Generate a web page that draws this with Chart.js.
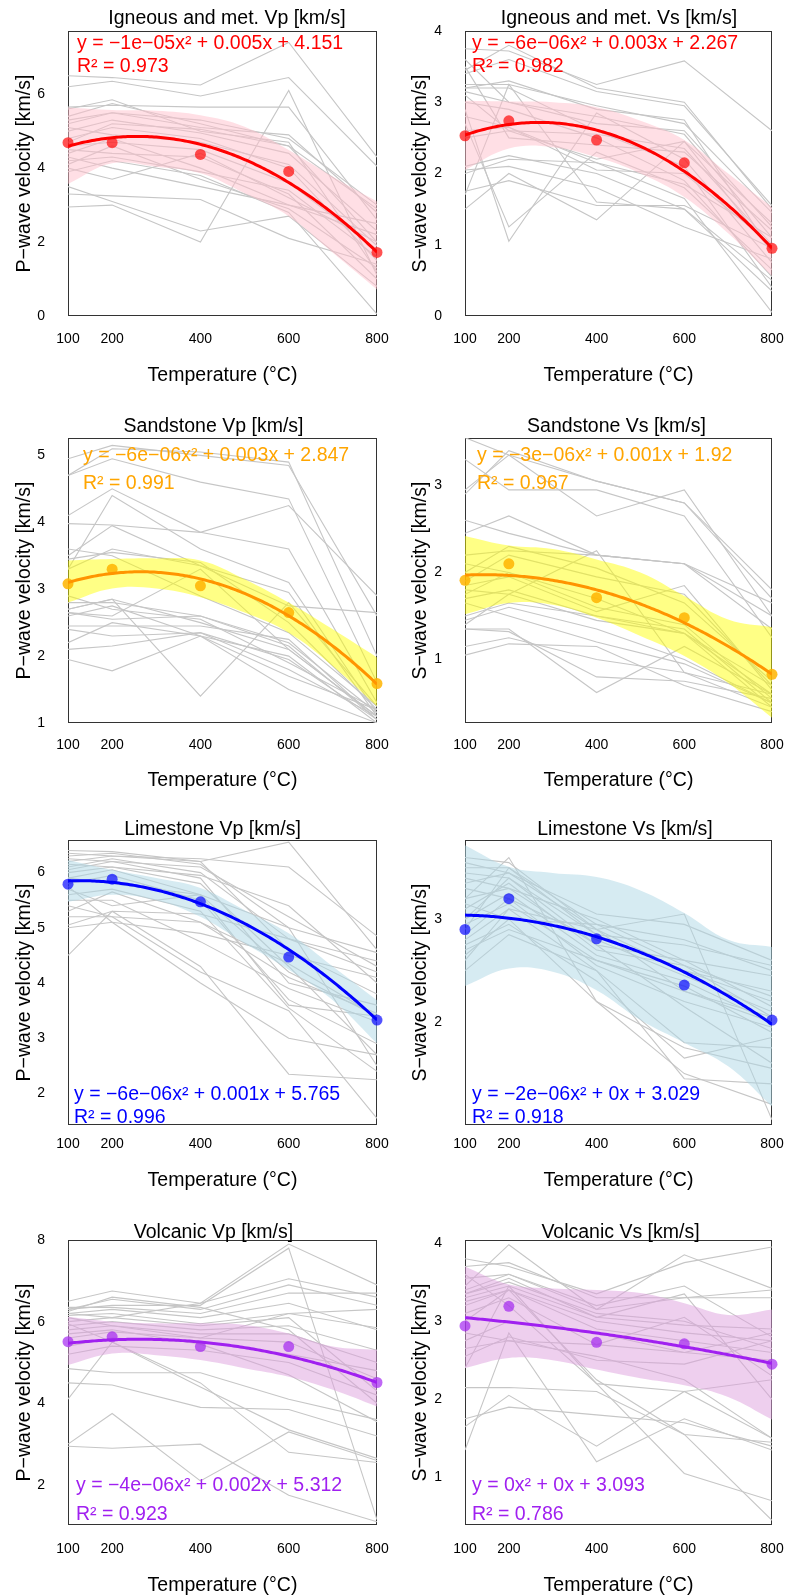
<!DOCTYPE html>
<html>
<head>
<meta charset="utf-8">
<script src="https://cdn.jsdelivr.net/npm/chart.js@4.4.1/dist/chart.umd.min.js"></script>
<style>
  html, body { margin: 0; padding: 0; background: #ffffff; }
  body { width: 787px; height: 1595px; position: relative; overflow: hidden; }
  canvas { position: absolute; }
</style>
</head>
<body>
<canvas id="c0"></canvas><canvas id="c1"></canvas>
<canvas id="c2"></canvas><canvas id="c3"></canvas>
<canvas id="c4"></canvas><canvas id="c5"></canvas>
<canvas id="c6"></canvas><canvas id="c7"></canvas>
<script>
// Temperatures at which each sample was measured (°C)
const temps = [100, 200, 400, 600, 800];
const xTicks = [100, 200, 400, 600, 800];
// Temperatures at which the confidence band edges are given
const bandX = [100, 200, 300, 400, 500, 600, 700, 800];

// ---------- Igneous and metamorphic, Vp ----------
const ignVpSamples = [
  [6.50, 6.45, 6.25, 7.40, 4.30],
  [6.20, 6.35, 5.95, 6.45, 4.05],
  [5.65, 5.70, 5.65, 5.65, 2.60],
  [5.60, 5.85, 5.00, 4.70, 1.20],
  [5.40, 5.75, 5.20, 4.60, 2.00],
  [5.20, 5.50, 5.10, 4.90, 2.80],
  [5.00, 5.30, 4.95, 4.40, 2.30],
  [4.80, 5.10, 4.80, 4.00, 1.50],
  [4.60, 4.70, 4.50, 3.60, 1.80],
  [4.50, 4.40, 4.30, 3.30, 1.00],
  [4.40, 4.80, 4.00, 3.00, 2.20],
  [4.20, 4.30, 3.90, 3.40, 1.60],
  [4.10, 4.60, 3.70, 2.90, 1.30],
  [4.00, 3.70, 4.40, 3.20, 2.00],
  [3.90, 4.20, 3.80, 2.80, 0.05],
  [3.50, 3.10, 2.30, 2.70, 0.80],
  [3.30, 3.25, 3.15, 2.10, 1.40],
  [2.95, 3.00, 2.00, 6.10, 1.10],
  [4.70, 5.20, 5.05, 4.60, 2.90],
  [5.30, 5.50, 5.30, 4.80, 3.00],
  [4.30, 4.00, 3.50, 3.00, 2.50],
  [5.10, 4.90, 4.70, 4.10, 1.90]
];
const ignVpMeans = [4.69, 4.69, 4.37, 3.91, 1.72];
const ignVpFit = [-1.065e-5, 0.00549, 4.151];
const ignVpUpper = [5.64, 5.57, 5.55, 5.43, 5.12, 4.49, 3.77, 3.10];
const ignVpLower = [3.57, 4.13, 4.04, 3.86, 3.32, 2.70, 1.71, 0.72];
const ignVpTicks = [0, 2, 4, 6];
const ignVpRange = [0, 7.71];
const ignVpEqn = "y = \u22121e\u221205x\u00b2 + 0.005x + 4.151";
const ignVpR2 = "R\u00b2 = 0.973";

// ---------- Igneous and metamorphic, Vs ----------
const ignVsSamples = [
  [3.75, 3.72, 3.25, 3.58, 2.60],
  [3.45, 3.80, 3.20, 3.00, 1.50],
  [3.40, 3.60, 3.15, 2.95, 1.55],
  [3.25, 3.25, 2.95, 2.70, 1.45],
  [3.20, 3.30, 2.90, 2.75, 0.90],
  [3.15, 3.00, 2.80, 2.55, 1.10],
  [3.10, 2.60, 2.20, 2.45, 0.90],
  [2.90, 1.05, 2.85, 2.20, 0.75],
  [2.70, 1.25, 2.30, 1.80, 0.65],
  [3.20, 3.20, 2.60, 2.10, 0.40],
  [3.00, 2.90, 2.50, 1.90, 0.55],
  [2.80, 2.65, 2.15, 1.65, 0.05],
  [2.60, 2.65, 2.05, 2.00, 1.00],
  [2.10, 2.25, 2.00, 1.50, 0.35],
  [2.05, 2.10, 1.80, 1.25, 0.80],
  [1.75, 1.90, 1.55, 1.55, 0.95],
  [1.50, 2.00, 1.35, 2.45, 1.30],
  [1.70, 3.25, 1.60, 1.50, 0.50],
  [3.50, 2.50, 2.40, 2.30, 1.20],
  [2.00, 2.20, 2.15, 1.85, 1.10],
  [3.60, 3.00, 2.70, 2.60, 1.25],
  [2.50, 2.60, 2.55, 2.35, 1.00]
];
const ignVsMeans = [2.53, 2.74, 2.47, 2.15, 0.95];
const ignVsFit = [-6.25e-6, 0.003355, 2.267];
const ignVsUpper = [3.02, 3.01, 3.00, 2.93, 2.74, 2.47, 2.00, 1.53];
const ignVsLower = [2.05, 2.35, 2.37, 2.23, 2.00, 1.67, 1.16, 0.56];
const ignVsTicks = [0, 1, 2, 3, 4];
const ignVsRange = [0, 4];
const ignVsEqn = "y = \u22126e\u221206x\u00b2 + 0.003x + 2.267";
const ignVsR2 = "R\u00b2 = 0.982";

// ---------- Sandstone, Vp ----------
const sandVpSamples = [
  [4.95, 5.15, 5.00, 4.85, 2.60],
  [4.70, 5.10, 5.05, 4.90, 2.00],
  [4.70, 4.95, 4.60, 4.35, 1.60],
  [4.10, 4.50, 3.85, 4.25, 2.90],
  [3.98, 3.96, 3.85, 3.60, 1.30],
  [3.30, 4.40, 3.60, 3.10, 1.15],
  [3.50, 3.95, 3.35, 2.75, 2.65],
  [3.45, 3.55, 3.40, 2.50, 1.20],
  [3.30, 3.60, 3.35, 2.95, 1.10],
  [2.70, 2.85, 1.40, 2.80, 1.25],
  [2.80, 2.80, 2.60, 2.20, 1.15],
  [2.70, 2.85, 2.50, 2.10, 1.10],
  [2.65, 2.55, 2.60, 2.15, 1.05],
  [2.60, 2.75, 2.30, 2.00, 1.00],
  [2.45, 2.45, 2.45, 2.25, 1.05],
  [2.40, 2.30, 2.35, 1.80, 1.10],
  [2.20, 2.50, 2.30, 1.70, 1.20],
  [2.10, 2.15, 2.35, 1.95, 1.05],
  [1.95, 1.78, 2.30, 1.50, 1.00],
  [2.65, 2.60, 3.30, 2.10, 1.10],
  [3.60, 3.50, 2.90, 2.35, 1.25],
  [2.90, 2.70, 2.55, 1.90, 1.20]
];
const sandVpMeans = [3.08, 3.30, 3.05, 2.65, 1.59];
const sandVpFit = [-5.877e-6, 0.003118, 2.847];
const sandVpUpper = [3.43, 3.45, 3.46, 3.43, 3.15, 2.80, 2.40, 1.98];
const sandVpLower = [2.80, 3.01, 3.01, 2.88, 2.65, 2.35, 1.85, 1.25];
const sandVpTicks = [1, 2, 3, 4, 5];
const sandVpRange = [1, 5.26];
const sandVpEqn = "y = \u22126e\u221206x\u00b2 + 0.003x + 2.847";
const sandVpR2 = "R\u00b2 = 0.991";

// ---------- Sandstone, Vs ----------
const sandVsSamples = [
  [3.55, 3.35, 2.65, 2.95, 1.50],
  [2.95, 3.35, 3.05, 2.80, 1.70],
  [2.90, 3.40, 3.05, 2.80, 1.80],
  [3.30, 2.95, 2.95, 2.65, 1.25],
  [2.60, 2.45, 2.20, 2.10, 1.50],
  [2.45, 2.65, 2.20, 2.10, 1.35],
  [2.20, 2.25, 2.20, 2.10, 1.65],
  [2.00, 2.30, 2.05, 1.65, 0.75],
  [1.90, 2.20, 1.95, 1.75, 0.70],
  [1.85, 1.95, 1.55, 1.85, 0.65],
  [1.80, 1.75, 1.45, 1.30, 0.60],
  [1.75, 2.00, 1.60, 1.40, 0.55],
  [1.70, 1.80, 1.50, 1.35, 0.50],
  [1.50, 1.65, 1.50, 1.30, 0.45],
  [1.45, 1.60, 1.35, 1.00, 0.50],
  [1.35, 1.35, 0.62, 1.15, 0.60],
  [1.35, 1.32, 0.80, 0.75, 0.55],
  [1.15, 1.25, 1.00, 0.85, 0.45],
  [1.05, 1.18, 1.15, 0.70, 0.40],
  [1.40, 1.75, 2.25, 0.85, 0.60],
  [1.65, 1.50, 1.20, 0.95, 0.50],
  [2.10, 2.00, 1.70, 1.30, 0.70]
];
const sandVsMeans = [1.91, 2.10, 1.71, 1.48, 0.83];
const sandVsFit = [-2.661e-6, 0.000766, 1.92];
const sandVsUpper = [2.42, 2.31, 2.27, 2.15, 2.00, 1.73, 1.46, 1.37];
const sandVsLower = [1.52, 1.65, 1.63, 1.48, 1.27, 1.04, 0.73, 0.33];
const sandVsTicks = [1, 2, 3];
const sandVsRange = [0.27, 3.546];
const sandVsEqn = "y = \u22123e\u221206x\u00b2 + 0.001x + 1.92";
const sandVsR2 = "R\u00b2 = 0.967";

// ---------- Limestone, Vp ----------
const limeVpSamples = [
  [6.40, 6.38, 6.20, 6.55, 4.60],
  [6.35, 6.30, 6.25, 6.10, 4.85],
  [6.30, 6.35, 6.15, 5.00, 4.55],
  [6.25, 6.20, 6.10, 5.20, 4.30],
  [6.20, 6.30, 6.20, 4.60, 3.80],
  [6.10, 6.25, 6.00, 4.80, 4.40],
  [6.05, 6.20, 5.90, 4.00, 3.60],
  [6.00, 6.10, 5.80, 4.30, 2.70],
  [5.90, 6.05, 5.60, 4.20, 3.40],
  [5.80, 5.95, 5.50, 3.70, 2.90],
  [5.70, 5.40, 5.60, 3.60, 3.40],
  [5.60, 5.70, 5.30, 3.55, 2.40],
  [5.50, 5.50, 4.75, 3.90, 3.30],
  [5.30, 5.65, 5.10, 4.35, 3.40],
  [5.20, 5.20, 5.10, 4.10, 3.45],
  [5.00, 5.10, 4.90, 4.50, 4.10],
  [5.05, 5.30, 5.25, 4.80, 4.20],
  [4.50, 5.30, 4.30, 2.35, 2.25],
  [5.40, 5.20, 4.20, 3.50, 1.55],
  [5.75, 5.10, 4.00, 3.00, 2.70],
  [5.90, 5.80, 5.60, 5.00, 2.50],
  [6.15, 6.10, 5.95, 5.40, 4.00]
];
const limeVpMeans = [5.79, 5.88, 5.47, 4.47, 3.33];
const limeVpFit = [-5.55e-6, 0.0014, 5.765];
const limeVpUpper = [6.23, 6.05, 5.90, 5.72, 5.32, 4.90, 4.30, 3.69];
const limeVpLower = [5.47, 5.60, 5.50, 5.20, 4.72, 4.24, 3.69, 2.91];
const limeVpTicks = [2, 3, 4, 5, 6];
const limeVpRange = [1.43, 6.59];
const limeVpEqn = "y = \u22126e\u221206x\u00b2 + 0.001x + 5.765";
const limeVpR2 = "R\u00b2 = 0.996";

// ---------- Limestone, Vs ----------
const limeVsSamples = [
  [3.60, 3.55, 2.90, 3.05, 1.05],
  [3.55, 3.45, 3.05, 2.95, 2.60],
  [3.50, 3.50, 2.95, 2.80, 2.50],
  [3.45, 3.40, 2.85, 2.75, 2.55],
  [3.40, 3.30, 3.00, 2.60, 2.45],
  [3.35, 3.45, 2.90, 2.50, 2.20],
  [3.30, 3.20, 2.80, 2.45, 2.10],
  [3.20, 3.30, 2.75, 2.60, 2.15],
  [3.10, 3.35, 2.70, 2.55, 2.05],
  [3.00, 3.25, 2.65, 2.40, 2.00],
  [2.95, 3.15, 2.60, 2.30, 2.00],
  [2.85, 3.20, 2.55, 2.20, 1.95],
  [2.80, 3.10, 2.90, 2.30, 2.05],
  [2.75, 2.95, 2.40, 1.65, 1.85],
  [2.65, 3.00, 2.20, 1.50, 1.20],
  [2.50, 2.85, 2.50, 1.80, 1.75],
  [3.20, 3.60, 2.20, 1.75, 1.55],
  [2.60, 3.10, 2.50, 1.45, 1.40],
  [3.00, 3.40, 2.75, 2.15, 1.60],
  [2.90, 3.50, 2.85, 2.50, 2.30],
  [3.15, 3.00, 2.95, 2.55, 2.25],
  [2.70, 2.90, 2.60, 2.35, 1.90]
];
const limeVsMeans = [2.90, 3.20, 2.81, 2.36, 2.02];
const limeVsFit = [-2.03e-6, 0.000313, 3.029];
const limeVsUpper = [3.72, 3.51, 3.45, 3.41, 3.28, 3.06, 2.80, 2.73];
const limeVsLower = [2.35, 2.52, 2.49, 2.31, 2.02, 1.80, 1.57, 1.18];
const limeVsTicks = [2, 3];
const limeVsRange = [1.0, 3.77];
const limeVsEqn = "y = \u22122e\u221206x\u00b2 + 0x + 3.029";
const limeVsR2 = "R\u00b2 = 0.918";

// ---------- Volcanic, Vp ----------
const volcVpSamples = [
  [6.20, 6.10, 6.45, 7.90, 6.90],
  [6.30, 6.40, 6.40, 7.80, 1.15],
  [6.50, 6.75, 6.45, 7.05, 6.60],
  [6.30, 6.55, 6.30, 6.90, 6.40],
  [6.35, 6.35, 6.20, 6.70, 6.70],
  [6.20, 6.30, 6.10, 6.45, 5.80],
  [6.15, 6.20, 5.95, 6.20, 6.30],
  [6.00, 6.10, 5.90, 6.10, 4.30],
  [5.90, 6.00, 5.80, 5.90, 5.30],
  [5.80, 5.90, 5.70, 5.70, 5.00],
  [5.60, 5.75, 5.60, 5.50, 4.60],
  [5.40, 5.60, 5.50, 5.20, 4.80],
  [5.20, 5.40, 5.30, 5.00, 4.20],
  [4.85, 4.75, 4.75, 4.10, 3.60],
  [4.50, 4.45, 3.90, 3.85, 3.20],
  [4.10, 5.50, 4.40, 3.35, 2.65],
  [3.00, 3.75, 2.10, 3.30, 2.60],
  [2.95, 2.90, 3.00, 1.75, 1.10],
  [5.95, 5.50, 4.50, 2.80, 2.55],
  [6.10, 5.90, 5.60, 6.20, 5.85],
  [5.70, 5.80, 5.45, 4.70, 3.55],
  [6.25, 6.60, 6.35, 5.80, 4.00]
];
const volcVpMeans = [5.51, 5.63, 5.39, 5.39, 4.51];
const volcVpFit = [-3.689e-6, 0.001949, 5.312];
const volcVpUpper = [6.12, 6.00, 5.96, 5.96, 5.92, 5.71, 5.39, 5.31];
const volcVpLower = [4.94, 5.22, 5.18, 5.06, 4.86, 4.65, 4.33, 3.92];
const volcVpTicks = [2, 4, 6, 8];
const volcVpRange = [1.02, 8];
const volcVpEqn = "y = \u22124e\u221206x\u00b2 + 0.002x + 5.312";
const volcVpR2 = "R\u00b2 = 0.923";

// ---------- Volcanic, Vs ----------
const volcVsSamples = [
  [3.45, 3.98, 3.15, 3.85, 3.42],
  [3.80, 3.70, 3.35, 3.75, 3.95],
  [3.70, 3.75, 3.30, 3.30, 3.40],
  [3.55, 3.60, 3.20, 3.45, 2.80],
  [3.40, 3.60, 3.15, 3.30, 3.30],
  [3.35, 3.50, 3.10, 3.00, 2.65],
  [3.30, 3.45, 3.05, 2.95, 2.90],
  [3.25, 3.40, 3.00, 2.85, 2.75],
  [3.20, 3.40, 2.90, 2.75, 2.60],
  [3.10, 3.30, 2.70, 3.05, 2.30],
  [2.75, 3.00, 2.85, 2.60, 2.50],
  [2.65, 2.75, 2.70, 2.60, 2.85],
  [2.55, 2.80, 2.50, 2.45, 2.75],
  [2.40, 3.45, 2.20, 2.10, 2.25],
  [2.15, 2.15, 2.10, 1.55, 1.45],
  [1.75, 1.90, 1.80, 1.70, 1.40],
  [1.65, 2.05, 1.40, 2.10, 1.50],
  [1.35, 2.85, 1.20, 1.75, 1.35],
  [3.60, 3.20, 2.20, 1.05, 0.70],
  [3.00, 3.40, 2.25, 1.55, 0.45],
  [3.35, 3.55, 3.05, 3.35, 2.00],
  [2.85, 2.75, 2.55, 2.25, 1.50]
];
const volcVsMeans = [2.94, 3.19, 2.73, 2.71, 2.45];
const volcVsFit = [-4.5e-7, -0.000431, 3.093];
const volcVsUpper = [3.70, 3.47, 3.42, 3.40, 3.36, 3.23, 3.08, 3.15];
const volcVsLower = [2.40, 2.53, 2.50, 2.38, 2.27, 2.18, 2.03, 1.74];
const volcVsTicks = [1, 2, 3, 4];
const volcVsRange = [0.39, 4.04];
const volcVsEqn = "y = 0x\u00b2 + 0x + 3.093";
const volcVsR2 = "R\u00b2 = 0.786";

// ---------- styling ----------
const FONT = '"Liberation Sans", Arial, Helvetica, sans-serif';
const themes = {
  red:    { line: '#ff0000', point: 'rgba(255,0,0,0.68)',   band: 'rgba(255,192,203,0.5)', text: '#ff0000' },
  orange: { line: '#ff9400', point: 'rgba(255,180,0,0.85)', band: 'rgba(255,255,0,0.48)',  text: '#ffa500' },
  blue:   { line: '#0000ff', point: 'rgba(0,0,255,0.68)',   band: 'rgba(173,216,230,0.5)', text: '#0000ff' },
  purple: { line: '#a020f0', point: 'rgba(160,32,240,0.68)', band: 'rgba(221,160,221,0.5)', text: '#a020f0' }
};
// Canvas extends past the plot on the right so tick-label padding never squeezes the plot
const RIGHT_PAD = 30;
const cols = [
  { left: 0,   plotLeft: 68, plotRight: 377, yTitleX: 25 },
  { left: 394, plotLeft: 71, plotRight: 378, yTitleX: 26.5 }
];
const rows = [
  { plotTop: 31,   titleOff: 12.3, tickOff: 23, xTitleOff: 59.5 },
  { plotTop: 438,  titleOff: 11,   tickOff: 22, xTitleOff: 57.5 },
  { plotTop: 840,  titleOff: 10.6, tickOff: 19, xTitleOff: 55.5 },
  { plotTop: 1240, titleOff: 7,    tickOff: 24, xTitleOff: 60.5 }
];
const PLOT_TOP = 40, PLOT_H = 285, X_AXIS_H = 79;
const CANVAS_H = PLOT_TOP + PLOT_H + X_AXIS_H;
const TITLE_SIZE = 19.5, TICK_SIZE = 14, NOTE_SIZE = 19.5;

const panels = [
  { title: 'Igneous and met. Vp [km/s]', titleDx: 4.5, yTitle: 'P\u2212wave velocity [km/s]', samples: ignVpSamples, means: ignVpMeans, fit: ignVpFit,
    upper: ignVpUpper, lower: ignVpLower, ticks: ignVpTicks, range: ignVpRange, eqn: ignVpEqn, r2: ignVpR2, theme: 'red',
    note: { anchor: 'top', dx: 9, dy1: 12.5, dy2: 36 } },
  { title: 'Igneous and met. Vs [km/s]', titleDx: 0.5, yTitle: 'S\u2212wave velocity [km/s]', samples: ignVsSamples, means: ignVsMeans, fit: ignVsFit,
    upper: ignVsUpper, lower: ignVsLower, ticks: ignVsTicks, range: ignVsRange, eqn: ignVsEqn, r2: ignVsR2, theme: 'red',
    note: { anchor: 'top', dx: 7, dy1: 12.5, dy2: 36 } },
  { title: 'Sandstone Vp [km/s]', titleDx: -9, yTitle: 'P\u2212wave velocity [km/s]', samples: sandVpSamples, means: sandVpMeans, fit: sandVpFit,
    upper: sandVpUpper, lower: sandVpLower, ticks: sandVpTicks, range: sandVpRange, eqn: sandVpEqn, r2: sandVpR2, theme: 'orange',
    note: { anchor: 'top', dx: 15, dy1: 17.5, dy2: 46 } },
  { title: 'Sandstone Vs [km/s]', titleDx: -2, yTitle: 'S\u2212wave velocity [km/s]', samples: sandVsSamples, means: sandVsMeans, fit: sandVsFit,
    upper: sandVsUpper, lower: sandVsLower, ticks: sandVsTicks, range: sandVsRange, eqn: sandVsEqn, r2: sandVsR2, theme: 'orange',
    note: { anchor: 'top', dx: 12, dy1: 17.5, dy2: 46 } },
  { title: 'Limestone Vp [km/s]', titleDx: -10, yTitle: 'P\u2212wave velocity [km/s]', samples: limeVpSamples, means: limeVpMeans, fit: limeVpFit,
    upper: limeVpUpper, lower: limeVpLower, ticks: limeVpTicks, range: limeVpRange, eqn: limeVpEqn, r2: limeVpR2, theme: 'blue',
    note: { anchor: 'bottom', dx: 6, dy1: 30.5, dy2: 7.5 } },
  { title: 'Limestone Vs [km/s]', titleDx: 6.5, yTitle: 'S\u2212wave velocity [km/s]', samples: limeVsSamples, means: limeVsMeans, fit: limeVsFit,
    upper: limeVsUpper, lower: limeVsLower, ticks: limeVsTicks, range: limeVsRange, eqn: limeVsEqn, r2: limeVsR2, theme: 'blue',
    note: { anchor: 'bottom', dx: 7, dy1: 30.5, dy2: 7.5 } },
  { title: 'Volcanic Vp [km/s]', titleDx: -9, yTitle: 'P\u2212wave velocity [km/s]', samples: volcVpSamples, means: volcVpMeans, fit: volcVpFit,
    upper: volcVpUpper, lower: volcVpLower, ticks: volcVpTicks, range: volcVpRange, eqn: volcVpEqn, r2: volcVpR2, theme: 'purple',
    note: { anchor: 'bottom', dx: 8, dy1: 39.5, dy2: 10 } },
  { title: 'Volcanic Vs [km/s]', titleDx: 2, yTitle: 'S\u2212wave velocity [km/s]', samples: volcVsSamples, means: volcVsMeans, fit: volcVsFit,
    upper: volcVsUpper, lower: volcVsLower, ticks: volcVsTicks, range: volcVsRange, eqn: volcVsEqn, r2: volcVsR2, theme: 'purple',
    note: { anchor: 'bottom', dx: 7, dy1: 39.5, dy2: 10 } }
];

// Box around the plotting region
const framePlugin = {
  id: 'frame',
  beforeDatasetsDraw(chart) {
    const { ctx, chartArea: a } = chart;
    ctx.save();
    ctx.strokeStyle = '#333333';
    ctx.lineWidth = 1;
    ctx.strokeRect(Math.round(a.left) + 0.5, Math.round(a.top) + 0.5,
                   Math.round(a.right - a.left) - 1, Math.round(a.bottom - a.top) - 1);
    ctx.restore();
  }
};

// Panel heading above the box, fitted equation and R² inside it
const panelTextPlugin = {
  id: 'panelText',
  afterDatasetsDraw(chart, args, opts) {
    const { ctx, chartArea: a } = chart;
    ctx.save();
    ctx.textBaseline = 'middle';
    ctx.font = TITLE_SIZE + 'px ' + FONT;
    ctx.fillStyle = '#000000';
    ctx.textAlign = 'center';
    ctx.fillText(opts.title, (a.left + a.right) / 2 + opts.titleDx, a.top - opts.titleOff);

    ctx.font = NOTE_SIZE + 'px ' + FONT;
    ctx.fillStyle = opts.color;
    ctx.textAlign = 'left';
    const n = opts.note;
    const x = a.left + n.dx;
    const top = n.anchor === 'top';
    ctx.fillText(opts.eqn, x, top ? a.top + n.dy1 : a.bottom - n.dy1);
    ctx.fillText(opts.r2, x, top ? a.top + n.dy2 : a.bottom - n.dy2);
    ctx.restore();
  }
};

function fitCurve(coef) {
  const pts = [];
  for (let t = 100; t <= 800; t += 5) {
    pts.push({ x: t, y: coef[0] * t * t + coef[1] * t + coef[2] });
  }
  return pts;
}

panels.forEach((p, i) => {
  const col = cols[i % 2], row = rows[Math.floor(i / 2)];
  const th = themes[p.theme];
  const width = col.plotRight + RIGHT_PAD;
  const cv = document.getElementById('c' + i);
  cv.width = width; cv.height = CANVAS_H;
  cv.style.left = col.left + 'px'; cv.style.top = (row.plotTop - PLOT_TOP) + 'px';
  cv.style.width = width + 'px'; cv.style.height = CANVAS_H + 'px';

  const datasets = [];
  datasets.push({ data: fitCurve(p.fit), borderColor: th.line, borderWidth: 3, pointRadius: 0,
    fill: false, order: 0 });
  datasets.push({ data: temps.map((t, k) => ({ x: t, y: p.means[k] })), showLine: false,
    pointRadius: 5.5, pointBackgroundColor: th.point, pointBorderWidth: 0, order: 1, clip: false });
  datasets.push({ data: bandX.map((t, k) => ({ x: t, y: p.upper[k] })), borderWidth: 0, pointRadius: 0,
    tension: 0.4, fill: '+1', backgroundColor: th.band, order: 2 });
  datasets.push({ data: bandX.map((t, k) => ({ x: t, y: p.lower[k] })), borderWidth: 0, pointRadius: 0,
    tension: 0.4, fill: false, order: 2 });
  p.samples.forEach(s => {
    datasets.push({ data: temps.map((t, k) => ({ x: t, y: s[k] })), borderColor: '#c6c6c6',
      borderWidth: 1.1, pointRadius: 0, fill: false, order: 3 });
  });

  new Chart(cv, {
    type: 'line',
    data: { datasets },
    plugins: [framePlugin, panelTextPlugin],
    options: {
      responsive: false, animation: false, devicePixelRatio: 1,
      layout: { padding: { left: 0, right: RIGHT_PAD, top: PLOT_TOP, bottom: 0 } },
      plugins: {
        legend: { display: false }, tooltip: { enabled: false }, title: { display: false },
        panelText: { title: p.title, titleDx: p.titleDx, titleOff: row.titleOff,
          eqn: p.eqn, r2: p.r2, color: th.text, note: p.note }
      },
      scales: {
        x: { type: 'linear', min: 100, max: 800,
          grid: { display: false, drawTicks: false }, border: { display: false },
          afterBuildTicks: s => { s.ticks = xTicks.map(v => ({ value: v })); },
          afterFit: s => { s.height = X_AXIS_H; },
          ticks: { color: '#000', padding: row.tickOff - TICK_SIZE * 0.6, maxRotation: 0, autoSkip: false,
            font: { family: FONT, size: TICK_SIZE, lineHeight: 1.2 } },
          title: { display: true, text: 'Temperature (\u00b0C)', color: '#000',
            font: { family: FONT, size: TITLE_SIZE, lineHeight: 1 },
            padding: { top: 0, bottom: X_AXIS_H - row.xTitleOff - TITLE_SIZE / 2 } } },
        y: { type: 'linear', min: p.range[0], max: p.range[1],
          grid: { display: false, drawTicks: false }, border: { display: false },
          afterBuildTicks: s => { s.ticks = p.ticks.map(v => ({ value: v })); },
          afterFit: s => { s.width = col.plotLeft; },
          ticks: { color: '#000', padding: 23, autoSkip: false,
            font: { family: FONT, size: TICK_SIZE, lineHeight: 1.2 } },
          title: { display: true, text: p.yTitle, color: '#000',
            font: { family: FONT, size: TITLE_SIZE, lineHeight: 1 },
            padding: { top: col.yTitleX - TITLE_SIZE / 2, bottom: 0 } } }
      }
    }
  });
});
</script>
</body>
</html>
